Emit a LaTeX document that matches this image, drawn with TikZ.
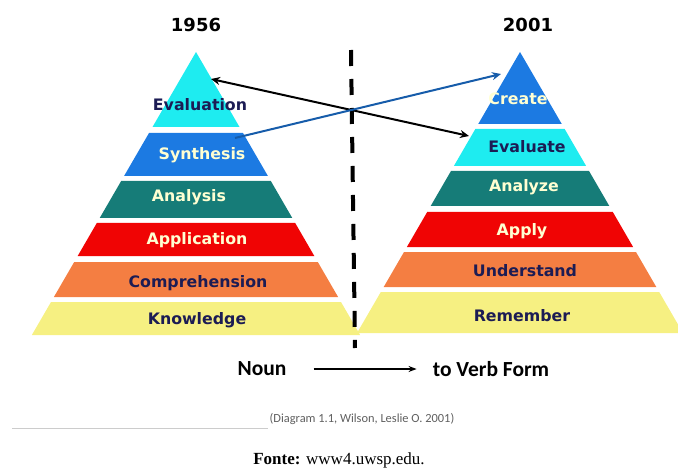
\documentclass[tikz,border=0pt]{standalone}
\usepackage{fontspec}
\setmainfont{Liberation Serif}
\newfontfamily\bandfont{DejaVu Sans}
\newfontfamily\notefont{Carlito}
\usepackage{tikz}
\usetikzlibrary{arrows.meta, positioning}

\definecolor{cyanband}{RGB}{30,236,240}
\definecolor{blueband}{RGB}{28,122,226}
\definecolor{tealband}{RGB}{22,124,120}
\definecolor{redband}{RGB}{240,4,4}
\definecolor{orangeband}{RGB}{244,126,66}
\definecolor{yellowband}{RGB}{246,240,130}
\definecolor{navytext}{RGB}{28,28,84}
\definecolor{creamtext}{RGB}{255,255,210}
\definecolor{arrowblue}{RGB}{22,92,170}
\definecolor{notegray}{RGB}{95,95,95}

\begin{document}
\begin{tikzpicture}[x=1pt, y=-1pt]
        \tikzset{every node/.style={inner sep=0pt}}
        \tikzset{lvl/.style={font=\bandfont\bfseries\fontsize{15.8}{15.8}\selectfont}}
        \tikzset{dark/.style={lvl, text=navytext}}
        \tikzset{light/.style={lvl, text=creamtext}}
        \tikzset{year/.style={font=\bandfont\bfseries\fontsize{18}{18}\selectfont}}
        \tikzset{form/.style={font=\notefont\bfseries\fontsize{21.5}{21.5}\selectfont}}
        \tikzset{link/.style={line width=2pt, -{Stealth[length=9pt, width=8pt]}}}

        \useasboundingbox (0,0) rectangle (678,468);

        % layers of a pyramid: apex x, apex y, top/bottom/colour
        \newcommand{\layers}[3]{
            \foreach \ya/\yb/\col in {#3} {
                \pgfmathsetmacro{\wa}{0.58*(\ya-#2)}
                \pgfmathsetmacro{\wb}{0.58*(\yb-#2)}
                \fill[\col] (#1-\wa,\ya) -- (#1+\wa,\ya) -- (#1+\wb,\yb) -- (#1-\wb,\yb) -- cycle;
            }
        }

        \begin{scope}
            \clip (0,0) rectangle (678,468);
            \layers{196}{52}{52/127/cyanband,133/176/blueband,181/218/tealband,223/256/redband,262/297/orangeband,302/335/yellowband}
            \layers{520}{52}{52/124/blueband,129/166/cyanband,171/206/tealband,212/247/redband,252/287/orangeband,292/333/yellowband}
        \end{scope}

        % divider
        \draw[line width=4pt, dash pattern=on 16pt off 13pt] (351,50) -- (355,348);

        \node[year] (old) at (196,25) {1956};
        \node[year] (new) at (528,25) {2001};

        \node[dark]  (evaluation) at (200,105) {Evaluation};
        \node[light] (synthesis) at (202,155) {Synthesis};
        \node[light] (analysis) at (189,197) {Analysis};
        \node[light] (application) at (197,240) {Application};
        \node[dark]  (comprehension) at (198,283) {Comprehension};
        \node[dark]  (knowledge) at (197,320) {Knowledge};

        \node[light] (create) at (518,99) {Create};
        \node[dark]  (evaluate) at (527,147) {Evaluate};
        \node[light] (analyze) at (524,187) {Analyze};
        \node[light] (apply) at (522,231) {Apply};
        \node[dark]  (understand) at (525,271) {Understand};
        \node[dark]  (remember) at (522,316) {Remember};

        \coordinate (evalTip) at (211,79);
        \coordinate (evalNew) at (469,136);
        \coordinate (synthEnd) at (235,138);
        \coordinate (createTip) at (501,74);

        \draw[link, {Stealth[length=9pt, width=8pt]}-{Stealth[length=9pt, width=8pt]}] (evalTip) -- (evalNew);
        \draw[link, arrowblue] (synthEnd) -- (createTip);

        \node[form] (noun) at (262,369) {Noun};
        \node[form] (verb) at (491,369) {to Verb Form};
        \draw[line width=1.6pt, -{Stealth[length=8pt, width=6pt]}, shorten <=27pt, shorten >=16pt] (noun.east) -- (verb.west);

        \node[font=\notefont\fontsize{12.4}{12.4}\selectfont, text=notegray] (diagram) at (362,419) {(Diagram 1.1, Wilson, Leslie O. 2001)};
        \draw[black!20, line width=0.8pt] (12,428) -- (268,428);

        \node[font=\fontsize{17}{17}\selectfont, anchor=base] (fonte) at (339,464) {\textbf{Fonte:} www4.uwsp.edu.};
    \end{tikzpicture}
\end{document}
